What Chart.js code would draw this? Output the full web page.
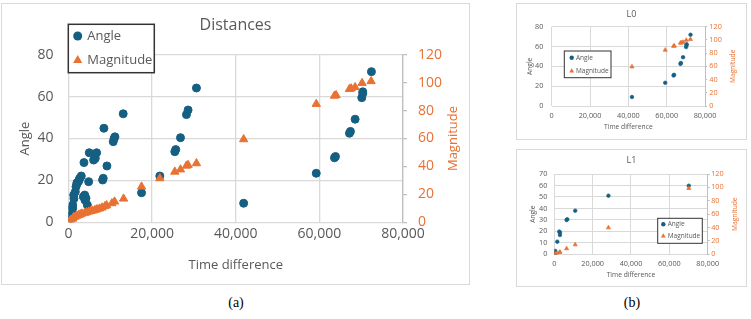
<!DOCTYPE html>
<html>
<head>
<meta charset="utf-8">
<script src="https://cdn.jsdelivr.net/npm/chart.js@4.4.1/dist/chart.umd.min.js"></script>
<style>
  html, body { margin: 0; padding: 0; background: #fff; }
  body { width: 751px; height: 319px; position: relative; overflow: hidden; }
  .box { position: absolute; border: 1px solid #d9d9d9; background: #fff; }
  .box canvas { display: block; }
  .cap { position: absolute; font-family: 'Liberation Serif', serif; font-size: 14px; color: #000; transform: translateX(-50%); }
</style>
</head>
<body>
<div class="box" style="left:1px;top:3px;width:467px;height:280px"><canvas id="mainChart"></canvas></div>
<div class="box" style="left:516px;top:3px;width:229px;height:135px"><canvas id="l0Chart"></canvas></div>
<div class="box" style="left:516px;top:149px;width:229px;height:136px"><canvas id="l1Chart"></canvas></div>
<div class="cap" style="left:236px;top:295px">(a)</div>
<div class="cap" style="left:632px;top:295px">(b)</div>
<script>
// (a) Distances - all pairs
const mainAngleX = [0, 200, 440, 1000, 1000, 1000, 1240, 1300, 1630, 1790, 1950, 2030, 2400, 2580, 2700, 3060,
  3550, 3870, 3940, 4180, 4500, 3700, 4820, 4970, 6010, 6400, 6400, 6730, 8160, 8300, 8470, 9190,
  10700, 10900, 11100, 13080, 17470, 21840, 25420, 25650, 26780, 28210, 28600, 30600,
  41890, 59250, 63610, 63850, 67190, 67430, 68550, 70140, 70380, 70380, 72450];
const mainAngleY = [1, 3, 5.9, 3.5, 6.7, 8.3, 13, 11.3, 14.6, 17, 18, 18.9, 19.5, 20.5, 21, 22.1,
  12.2, 13, 10.6, 11.5, 8.3, 28.5, 19.4, 33.2, 29.7, 30.5, 32.1, 33.2, 20.2, 21, 44.9, 26.9,
  38.5, 40, 40.8, 51.8, 14.1, 22.1, 33.7, 34.7, 40.4, 51.4, 53.6, 64.1,
  9.1, 23.4, 30.8, 31.4, 42.5, 43.4, 49.2, 59.5, 61.5, 62.3, 71.9];
const mainMagX = [0, 300, 600, 1000, 1240, 1600, 2030, 2430, 2820, 3200, 3870, 4300, 4820, 5300, 5780,
  6330, 6800, 7400, 8000, 8710, 9120, 10380, 11030, 13170, 17470, 21840, 25420, 26780, 28210, 28600,
  30600, 41890, 59250, 63610, 64000, 67190, 67600, 68550, 70220, 72370];
const mainMagY = [0.3, 1, 1.8, 2.6, 3.8, 4, 4.7, 5.2, 5.7, 6.2, 6.7, 7.1, 7.6, 8, 8.3,
  8.8, 9.3, 9.8, 10.5, 11.5, 12.2, 13.6, 14.8, 16.9, 25.5, 31.5, 36.2, 37.8, 40.5, 41,
  42.2, 59.4, 84.7, 90.6, 91, 95.4, 95.8, 96.7, 99.7, 101];

// (b) L0
const l0AngleX = [41890, 59250, 63610, 63850, 67190, 67430, 68550, 70140, 70380, 70380, 72450];
const l0AngleY = [9.1, 23.4, 30.8, 31.4, 42.5, 43.4, 49.2, 59.5, 61.5, 62.3, 71.9];
const l0MagX = [41890, 59250, 63610, 64000, 67190, 67600, 68550, 70220, 72370];
const l0MagY = [59.4, 84.7, 90.6, 91, 95.4, 95.8, 96.7, 99.7, 101];

// (b) L1
const l1AngleX = [0, 300, 520, 700, 1560, 2600, 2940, 2940, 6410, 6750, 10910, 28230, 70150];
const l1AngleY = [0.5, 0.9, 2.9, 0.3, 11, 19.8, 18.9, 16.8, 29.9, 30.5, 38, 51.1, 59.8];
const l1MagX = [0, 500, 1210, 2600, 2940, 6410, 10910, 28230, 70150];
const l1MagY = [0.2, 0.5, 1.5, 2.5, 3.5, 8.5, 14.4, 39.8, 98.6];

const xTicks = [0, 20000, 40000, 60000, 80000];

const BLUE = '#156082';
const ORANGE = '#E97132';
const GREY = '#595959';
const GRID = '#d9d9d9';

Chart.defaults.font.family = "'Open Sans', sans-serif";

const zip = (xs, ys) => xs.map((x, i) => ({ x: x, y: ys[i] }));

// legend box drawn inside the plot, like the Excel one
const boxLegend = {
  id: 'boxLegend',
  afterDraw(chart, args, o) {
    if (!o || !o.rows) return;
    const ctx = chart.ctx;
    ctx.save();
    ctx.fillStyle = '#fff';
    ctx.fillRect(o.x, o.y, o.w, o.h);
    ctx.lineWidth = o.lineWidth;
    ctx.strokeStyle = '#333';
    ctx.strokeRect(o.x, o.y, o.w, o.h);
    ctx.font = o.size + "px 'Open Sans', sans-serif";
    ctx.textBaseline = 'middle';
    chart.data.datasets.forEach((ds, i) => {
      const y = o.rows[i];
      ctx.fillStyle = ds.backgroundColor;
      Chart.helpers.drawPoint(ctx, { pointStyle: ds.pointStyle, radius: o.marks[i], rotation: 0, borderWidth: 0 }, o.markX, y);
      ctx.fillStyle = GREY;
      ctx.fillText(ds.label, o.textX, y);
    });
    ctx.restore();
  }
};

// right axis title reads bottom-to-top in the original
const sideTitle = {
  id: 'sideTitle',
  afterDraw(chart, args, o) {
    if (!o || !o.text) return;
    const a = chart.chartArea, ctx = chart.ctx;
    ctx.save();
    ctx.translate(o.x, (a.top + a.bottom) / 2);
    ctx.rotate(-Math.PI / 2);
    ctx.font = o.size + "px 'Open Sans', sans-serif";
    ctx.fillStyle = o.color;
    ctx.textAlign = 'center';
    ctx.textBaseline = 'middle';
    ctx.fillText(o.text, 0, 0);
    ctx.restore();
  }
};

Chart.register(boxLegend, sideTitle);

function build(id, g, angle, mag) {
  return new Chart(document.getElementById(id), {
    type: 'scatter',
    data: {
      datasets: [
        { label: 'Angle', data: angle, yAxisID: 'y', order: 1, pointStyle: 'circle',
          pointRadius: g.r, pointHoverRadius: g.r, borderWidth: g.bw, backgroundColor: BLUE, borderColor: BLUE },
        { label: 'Magnitude', data: mag, yAxisID: 'y2', order: 0, pointStyle: 'triangle',
          pointRadius: g.tr, pointHoverRadius: g.tr, borderWidth: g.bw, backgroundColor: ORANGE, borderColor: ORANGE }
      ]
    },
    options: {
      responsive: true,
      maintainAspectRatio: false,
      animation: false,
      layout: { padding: 0 },
      plugins: {
        legend: { display: false },
        tooltip: { enabled: false },
        title: { display: true, text: g.title, color: GREY, font: { size: g.titleSize, weight: 'normal' }, padding: g.titlePad },
        boxLegend: g.legend,
        sideTitle: { text: 'Magnitude', x: g.rtX, size: g.axisSize, color: ORANGE }
      },
      scales: {
        x: {
          type: 'linear', min: 0, max: 80000,
          afterFit: s => { s.height = g.xH; },
          afterBuildTicks: s => { s.ticks = xTicks.map(v => ({ value: v })); },
          ticks: { color: GREY, font: { size: g.tickSize }, padding: g.xPad, maxRotation: 0, autoSkip: false,
            callback: v => v.toLocaleString('en-US') },
          grid: { color: GRID, lineWidth: g.gw, drawTicks: false },
          border: { display: false },
          title: { display: true, text: 'Time difference', color: GREY, font: { size: g.axisSize }, padding: { top: 0, bottom: g.xtPad } }
        },
        y: {
          position: 'left', min: 0, max: g.yMax,
          afterFit: s => { s.width = g.yW; },
          ticks: { stepSize: g.yStep, autoSkip: false, color: GREY, font: { size: g.tickSize }, padding: g.yPad },
          grid: { color: GRID, lineWidth: g.gw, drawTicks: false },
          border: { display: false },
          title: { display: true, text: 'Angle', color: GREY, font: { size: g.axisSize }, padding: { top: g.ytPad, bottom: 0 } }
        },
        y2: {
          position: 'right', min: 0, max: 120,
          afterFit: s => { s.width = g.y2W; },
          ticks: { stepSize: 20, autoSkip: false, color: ORANGE, font: { size: g.tickSize }, padding: g.y2Pad },
          grid: { drawOnChartArea: false, color: '#bfbfbf', lineWidth: g.gw, tickLength: g.tl },
          border: { display: true, color: '#bfbfbf', width: g.gw }
        }
      }
    }
  });
}

build('mainChart', {
  title: 'Distances', titleSize: 16, titlePad: { top: 12, bottom: 19.5 },
  yW: 66.5, y2W: 66, xH: 61.7, yMax: 80, yStep: 20,
  tickSize: 14, axisSize: 13, yPad: 15, xPad: 3, tl: 4, y2Pad: 11, xtPad: 11.2, ytPad: 15.2,
  rtX: 451, gw: 1.3, r: 4, tr: 4.8, bw: 1,
  legend: { x: 66.3, y: 20.3, w: 86, h: 48.4, markX: 75.7, textX: 85.3, rows: [32, 56.3], marks: [4.5, 5.3], size: 13, lineWidth: 1.5 }
}, zip(mainAngleX, mainAngleY), zip(mainMagX, mainMagY));

build('l0Chart', {
  title: 'L0', titleSize: 9, titlePad: { top: 4.6, bottom: 7.3 },
  yW: 34.7, y2W: 41, xH: 33, yMax: 80, yStep: 20,
  tickSize: 7.3, axisSize: 6.7, yPad: 8.4, xPad: 5.5, tl: 2, y2Pad: 2.3, xtPad: 7.7, ytPad: 9,
  rtX: 216.3, gw: 1, r: 1.8, tr: 2.4, bw: 0.7,
  legend: { x: 47.3, y: 47, w: 46.7, h: 26.7, markX: 54.7, textX: 59, rows: [53.7, 67], marks: [2.2, 2.8], size: 6.5, lineWidth: 1 }
}, zip(l0AngleX, l0AngleY), zip(l0MagX, l0MagY));

build('l1Chart', {
  title: 'L1', titleSize: 9, titlePad: { top: 4.6, bottom: 8.6 },
  yW: 37.3, y2W: 38.3, xH: 31.7, yMax: 70, yStep: 10,
  tickSize: 7.3, axisSize: 6.7, yPad: 7, xPad: 5.6, tl: 2, y2Pad: 1.5, xtPad: 6.4, ytPad: 12.3,
  rtX: 218, gw: 1, r: 1.8, tr: 2.4, bw: 0.7,
  legend: { x: 140.7, y: 68.3, w: 44.6, h: 25, markX: 146.3, textX: 150.7, rows: [74.3, 86], marks: [2.2, 2.8], size: 6.5, lineWidth: 1 }
}, zip(l1AngleX, l1AngleY), zip(l1MagX, l1MagY));
</script>
</body>
</html>
